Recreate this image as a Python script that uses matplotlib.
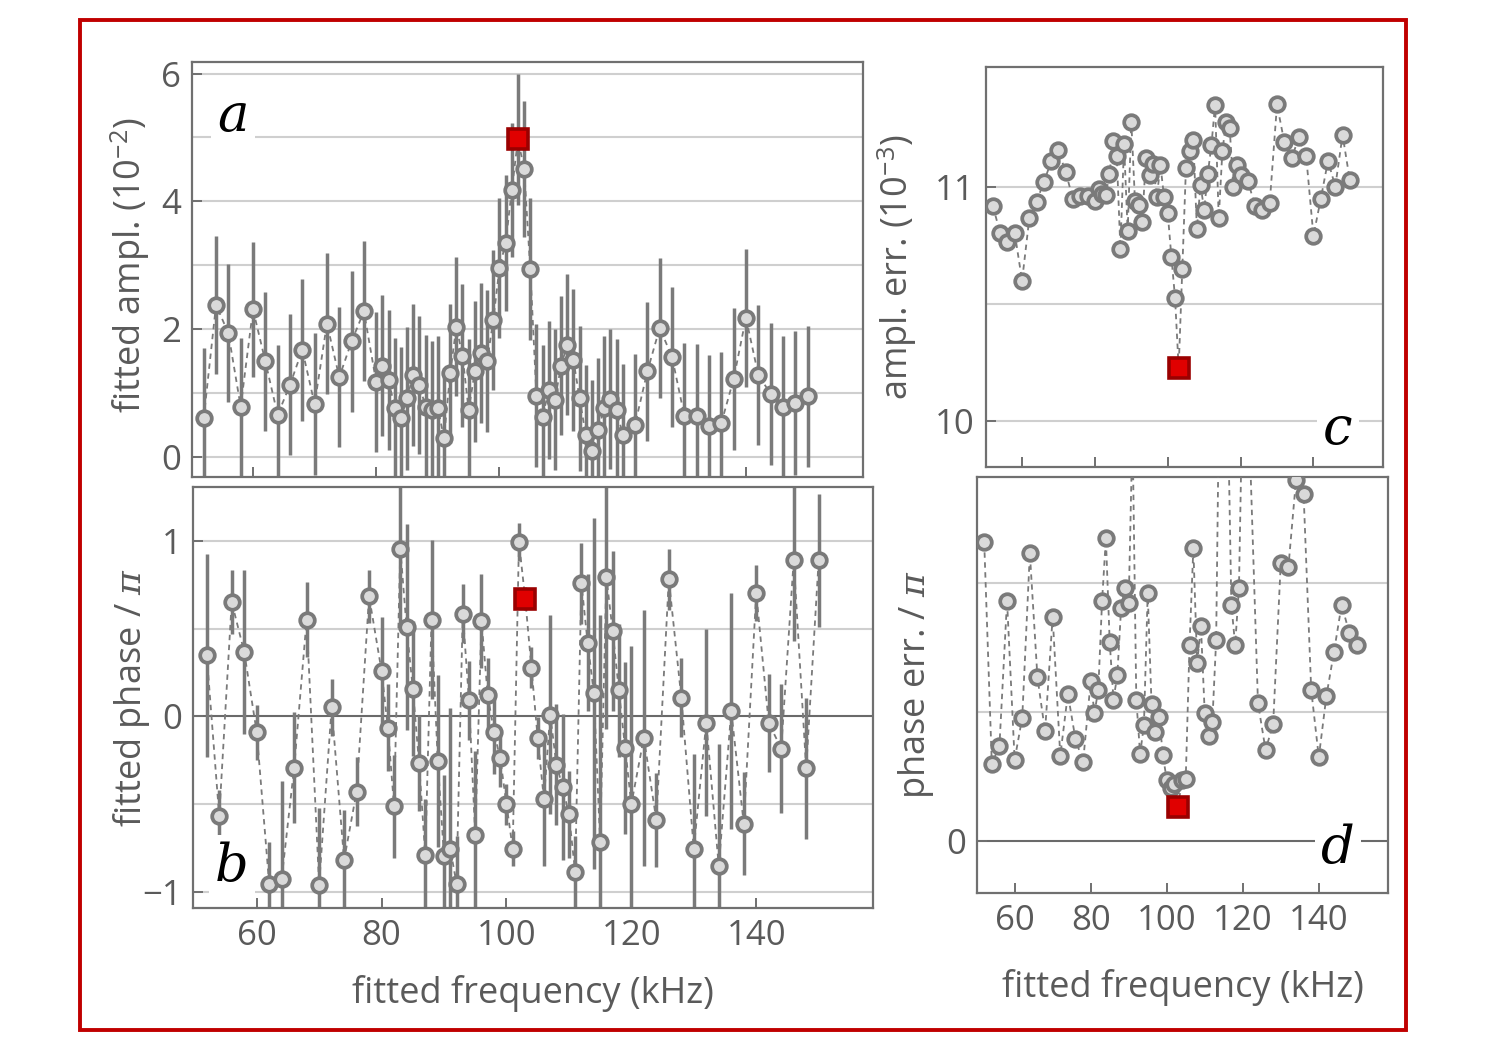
import matplotlib
matplotlib.use("Agg")
import matplotlib.pyplot as plt
from matplotlib.patches import Rectangle
import numpy as np

plt.rcParams['font.family'] = ['Open Sans', 'DejaVu Sans']
plt.rcParams['mathtext.fontset'] = 'custom'
plt.rcParams['mathtext.rm'] = 'Open Sans'
plt.rcParams['mathtext.it'] = 'DejaVu Serif:italic'

# ---------------- data ----------------
freq = [52, 54, 56, 58, 60, 62, 64, 66, 68, 70, 72, 74, 76, 78, 80,
        81, 82, 83, 84, 85, 86, 87, 88, 89, 90, 91, 92, 93, 94, 95, 96, 97, 98, 99, 100,
        101, 102, 103, 104, 105, 106, 107, 108, 109, 110, 111, 112, 113, 114, 115, 116,
        117, 118, 119, 120,
        122, 124, 126, 128, 130, 132, 134, 136, 138, 140, 142, 144, 146, 148, 150]

ampl = [0.61, 2.38, 1.94, 0.79, 2.31, 1.50, 0.66, 1.13, 1.68, 0.83, 2.09, 1.25, 1.81, 2.28, 1.17,
        1.43, 1.21, 0.77, 0.61, 0.92, 1.29, 1.13, 0.79, 0.74, 0.77, 0.30, 1.31, 2.04, 1.59, 0.74,
        1.34, 1.63, 1.50, 2.15, 2.96, 3.35, 4.18, 4.97, 4.51, 2.94, 0.96, 0.63, 1.05, 0.90, 1.43,
        1.76, 1.52, 0.92, 0.35, 0.09, 0.42, 0.77, 0.91, 0.74, 0.35,
        0.51, 1.34, 2.02, 1.57, 0.65, 0.65, 0.49, 0.53, 1.22, 2.18, 1.29, 0.99, 0.79, 0.85, 0.95]

phase = [0.348, -0.57, 0.652, 0.367, -0.09, -0.955, -0.926, -0.293, 0.552, -0.96, 0.05, -0.82,
         -0.43, 0.684, 0.258,
         -0.065, -0.513, 0.957, 0.51, 0.158, -0.266, -0.793, 0.552, -0.257, -0.8, -0.755, -0.955,
         0.586, 0.09, -0.68, 0.544, 0.12, -0.09, -0.24, -0.502, -0.755, 0.994, 0.671, 0.278,
         -0.124, -0.474, 0.01, -0.276, -0.403, -0.56, -0.888, 0.76, 0.42, 0.13, -0.72, 0.795,
         0.487, 0.148, -0.18, -0.502,
         -0.122, -0.593, 0.781, 0.107, -0.755, -0.036, -0.856, 0.03, -0.612, 0.703, -0.038,
         -0.184, 0.89, -0.298, 0.89]

ampl_err = [10.917, 10.80, 10.765, 10.80, 10.598, 10.865, 10.936, 11.02, 11.107, 11.154, 11.06,
            10.946, 10.96, 10.96, 10.94,
            10.99, 10.97, 10.964, 11.054, 11.195, 11.13, 10.734, 11.18, 10.81, 11.275, 10.94,
            10.92, 10.85, 11.12, 11.05, 11.095, 10.957, 11.09, 10.954, 10.886, 10.70, 10.526,
            10.224, 10.65, 11.08, 11.15, 11.2, 10.82, 11.007, 10.9, 11.054, 11.178, 11.349,
            10.865, 11.15, 11.275, 11.25, 11.0, 11.093, 11.05,
            11.024, 10.915, 10.9, 10.93, 11.35, 11.19, 11.12, 11.21, 11.13, 10.79, 10.946,
            11.11, 11.0, 11.22, 11.026]

phase_err = [0.579, 0.149, 0.184, 0.466, 0.157, 0.239, 0.558, 0.317, 0.212, 0.435, 0.165, 0.285,
             0.197, 0.153, 0.309,
             0.248, 0.293, 0.466, 0.587, 0.386, 0.274, 0.321, 0.451, 0.49, 0.462, 0.80, 0.274,
             0.168, 0.224, 0.481, 0.266, 0.211, 0.24, 0.166, 0.118, 0.102, 0.11, 0.066, 0.118,
             0.12, 0.38, 0.568, 0.345, 0.416, 0.247, 0.203, 0.231, 0.389, 1.0, 1.3, 0.87, 0.458,
             0.38, 0.49, 0.9,
             0.73, 0.267, 0.176, 0.227, 0.54, 0.531, 0.70, 0.673, 0.293, 0.162, 0.281, 0.367,
             0.458, 0.404, 0.38]

highlight_freq = 103
xticks = [60, 80, 100, 120, 140]

# ---------------- style ----------------
GRAY = '#7a7a7a'
FILL = '#dadada'
GRID = '#cfcfcf'
SPINE = '#707070'
TXT = '#5a5a5a'
ZERO = '#6a6a6a'
FS_TICK = 25
FS_LAB = 26

fig = plt.figure(figsize=(15, 10.5), dpi=100)


def add_ax(l, t, r, b):
    return fig.add_axes([l / 1500, 1 - b / 1050, (r - l) / 1500, (b - t) / 1050])


def style(ax):
    for s in ax.spines.values():
        s.set_color(SPINE)
        s.set_linewidth(1.6)
    ax.tick_params(direction='in', colors=SPINE, labelcolor=TXT, length=7, width=1.4,
                   labelsize=FS_TICK, pad=8)
    ax.set_xticks(xticks)


def series(ax, x, y, err=None):
    x = np.asarray(x, float)
    y = np.asarray(y, float)
    hi = list(x).index(highlight_freq)
    ax.plot(x, y, ls=(0, (3, 2.5)), color=GRAY, lw=1.3, zorder=3)
    if err is not None:
        ax.errorbar(x, y, yerr=err, fmt='none', ecolor=GRAY, elinewidth=2.5, capsize=0, zorder=2)
    mask = np.ones(len(x), bool)
    mask[hi] = False
    ax.plot(x[mask], y[mask], 'o', ms=10.5, mfc=FILL, mec=GRAY, mew=2.7, ls='none', zorder=4)
    ax.plot([x[hi]], [y[hi]], 's', ms=14, mfc='#e00000', mec='#9a0000', mew=2.6, zorder=6)


def letter(ax, s, xf, yf):
    ax.text(xf, yf, s, transform=ax.transAxes, fontsize=38, family='DejaVu Serif',
            style='italic', ha='center', va='center', color='black', zorder=5,
            bbox=dict(facecolor='white', edgecolor='none', pad=4))


# ---------------- panel a ----------------
axa = add_ax(192, 62, 863, 477)
style(axa)
axa.set_xlim(50.1, 159.0)
axa.set_ylim(-0.31, 6.18)
for g in range(0, 7):
    axa.axhline(g, color=GRID, lw=1.5, zorder=0)
series(axa, freq, ampl, err=np.asarray(ampl_err) / 10.0)
axa.set_yticks([0, 2, 4, 6])
axa.tick_params(labelbottom=False)
axa.set_ylabel(r'fitted ampl. (10$^{\mathrm{-2}}$)', fontsize=FS_LAB, color=TXT)
axa.yaxis.set_label_coords(-0.06, 0.51)
letter(axa, 'a', (233 - 192) / 671, 1 - (117 - 62) / 415)

# ---------------- panel b ----------------
axb = add_ax(193, 487, 873, 908)
style(axb)
axb.set_xlim(49.8, 158.7)
axb.set_ylim(-1.094, 1.308)
for g in [-1, -0.5, 0.5, 1]:
    axb.axhline(g, color=GRID, lw=1.5, zorder=0)
axb.axhline(0, color=ZERO, lw=1.5, zorder=1)
series(axb, freq, phase, err=phase_err)
axb.set_yticks([-1, 0, 1])
axb.set_ylabel(r'fitted phase / $\pi$', fontsize=FS_LAB, color=TXT)
axb.yaxis.set_label_coords(-0.06, 0.5)
axb.set_xlabel('fitted frequency (kHz)', fontsize=FS_LAB, color=TXT, labelpad=16)
letter(axb, 'b', (232 - 193) / 680, 1 - (866 - 487) / 421)

# ---------------- panel c ----------------
axc = add_ax(986, 67, 1383, 467)
style(axc)
axc.set_xlim(50.1, 159.1)
axc.set_ylim(9.803, 11.51)
for g in [10, 10.5, 11]:
    axc.axhline(g, color=GRID, lw=1.5, zorder=0)
series(axc, freq, ampl_err)
axc.set_yticks([10, 11])
axc.tick_params(labelbottom=False)
axc.set_ylabel(r'ampl. err. (10$^{\mathrm{-3}}$)', fontsize=FS_LAB, color=TXT)
axc.yaxis.set_label_coords(-0.17, 0.5)
letter(axc, 'c', (1338 - 986) / 397, 1 - (430 - 67) / 400)

# ---------------- panel d ----------------
axd = add_ax(977, 477, 1388, 893)
style(axd)
axd.set_xlim(50.1, 158.2)
axd.set_ylim(-0.1016, 0.706)
for g in [0.25, 0.5]:
    axd.axhline(g, color=GRID, lw=1.5, zorder=0)
axd.axhline(0, color=ZERO, lw=1.5, zorder=1)
series(axd, freq, phase_err)
axd.set_yticks([0])
axd.set_ylabel(r'phase err. / $\pi$', fontsize=FS_LAB, color=TXT)
axd.yaxis.set_label_coords(-0.1, 0.5)
axd.set_xlabel('fitted frequency (kHz)', fontsize=FS_LAB, color=TXT, labelpad=22)
letter(axd, 'd', (1338 - 977) / 411, 1 - (848 - 477) / 416)

# ---------------- red frame ----------------
fig.patches.append(Rectangle((80 / 1500, 1 - 1030 / 1050), (1406 - 80) / 1500, (1030 - 20) / 1050,
                             transform=fig.transFigure, fill=False, ec='#c00000', lw=2.8))

fig.savefig('out.png', dpi=100, facecolor='white')
